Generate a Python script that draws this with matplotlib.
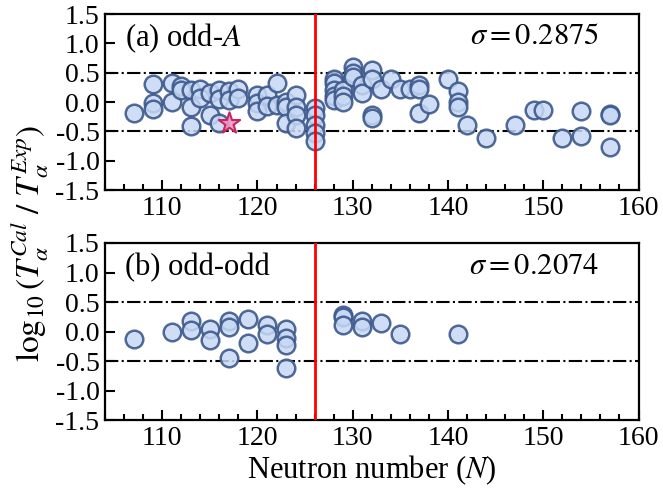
import matplotlib
matplotlib.use("Agg")
import matplotlib.pyplot as plt
from matplotlib.ticker import MultipleLocator

plt.rcParams["font.family"] = ["Liberation Serif", "DejaVu Serif"]
plt.rcParams["mathtext.fontset"] = "stix"
plt.rcParams["axes.unicode_minus"] = False

# (a) odd-A nuclei: neutron number and log10(T_cal / T_exp)
oddA_N = [107, 109, 109, 109, 111, 111, 112, 112, 113, 113, 113, 114, 114,
          115, 115, 116, 116, 116, 117, 117, 118, 118, 120, 120, 120, 121,
          121, 122, 122, 123, 123, 123, 124, 124, 124, 124,
          126, 126, 126, 126, 126,
          128, 128, 128, 128, 128, 129, 129, 129, 130, 130, 130, 131, 131,
          132, 132, 132, 132, 133, 134, 135, 136, 137, 137, 137, 138, 140,
          141, 141, 141, 142, 144, 147, 149, 150, 152, 154, 154, 157, 157, 157]
oddA_val = [-0.19, 0.30, -0.02, -0.12, 0.32, 0.00, 0.27, 0.20, 0.20, -0.08, -0.41,
            0.23, 0.06, 0.15, -0.22, 0.20, 0.05, -0.36, 0.18, 0.03, 0.23, 0.07,
            0.12, -0.02, -0.16, 0.12, -0.06, 0.33, -0.05, 0.00, -0.08, -0.36,
            0.12, -0.08, -0.22, -0.45,
            -0.10, -0.22, -0.40, -0.53, -0.67,
            0.40, 0.32, 0.20, 0.10, 0.03, 0.20, 0.10, 0.00, 0.60, 0.50, 0.43,
            0.29, 0.15, 0.55, 0.40, -0.22, -0.27, 0.23, 0.39, 0.23, 0.22, 0.29,
            0.23, -0.19, -0.03, 0.40, 0.18, 0.00, -0.09, -0.39, -0.62, -0.39,
            -0.14, -0.14, -0.62, -0.16, -0.58, -0.20, -0.22, -0.76]

# highlighted nucleus in panel (a)
star_N = [117]
star_val = [-0.36]

# (b) odd-odd nuclei
oddodd_N = [107, 111, 113, 113, 115, 115, 117, 117, 117, 119, 119, 121, 121,
            123, 123, 123, 123, 129, 129, 129, 131, 131, 133, 135, 141]
oddodd_val = [-0.13, 0.00, 0.17, 0.03, 0.04, -0.14, 0.17, 0.08, -0.45, 0.22,
              -0.20, 0.11, -0.04, 0.04, -0.11, -0.23, -0.62, 0.28, 0.25, 0.11,
              0.18, 0.07, 0.14, -0.04, -0.04]

panel_labels = ["(a) odd-$\\mathit{A}$", "(b) odd-odd"]
sigma_labels = ["$\\sigma = 0.2875$", "$\\sigma = 0.2074$"]

fig = plt.figure(figsize=(6.63, 4.92), dpi=100)
ax1 = fig.add_axes([0.1584, 0.6138, 0.8047, 0.3577])
ax2 = fig.add_axes([0.1584, 0.1463, 0.8047, 0.3598])

face = (0.78, 0.85, 0.96, 0.85)
edge = (0.24, 0.35, 0.55, 0.9)

datasets = [(oddA_N, oddA_val), (oddodd_N, oddodd_val)]
for i, ax in enumerate([ax1, ax2]):
    N, val = datasets[i]
    ax.axhline(0.5, color="black", linestyle="-.", lw=1.5, zorder=1)
    ax.axhline(-0.5, color="black", linestyle="-.", lw=1.5, zorder=1)
    ax.scatter(N, val, s=160, facecolor=face, edgecolor=edge, linewidth=1.8, zorder=3)
    ax.axvline(126, color="red", lw=2, zorder=4)

    ax.set_xlim(104, 160)
    ax.set_ylim(-1.5, 1.5)
    ax.xaxis.set_major_locator(MultipleLocator(10))
    ax.xaxis.set_minor_locator(MultipleLocator(2))
    ax.yaxis.set_major_locator(MultipleLocator(0.5))
    ax.tick_params(which="both", direction="in", top=False, right=False, labelsize=20,
                   width=1.5, pad=4)
    ax.tick_params(which="major", length=7)
    ax.tick_params(which="minor", length=4.5)
    ax.yaxis.set_major_formatter(matplotlib.ticker.FormatStrFormatter("%.1f"))
    for sp in ax.spines.values():
        sp.set_linewidth(1.6)

    ax.text(0.037, 0.86, panel_labels[i], transform=ax.transAxes, fontsize=22,
            va="center", ha="left")
    ax.text(0.925, 0.87, sigma_labels[i], transform=ax.transAxes, fontsize=22,
            va="center", ha="right")

ax1.scatter(star_N, star_val, marker="*", s=260, facecolor=(0.93, 0.6, 0.78, 0.9),
            edgecolor=(0.78, 0.15, 0.38), linewidth=1.5, zorder=5)

ax2.set_xlabel("Neutron number ($\\mathit{N}$)", fontsize=22, labelpad=2)
fig.text(0.045, 0.505, "$\\log_{10}(T_{\\alpha}^{Cal}\\ /\\ T_{\\alpha}^{Exp})$",
         rotation=90, fontsize=24, ha="center", va="center")

fig.savefig("out.png", dpi=100)
